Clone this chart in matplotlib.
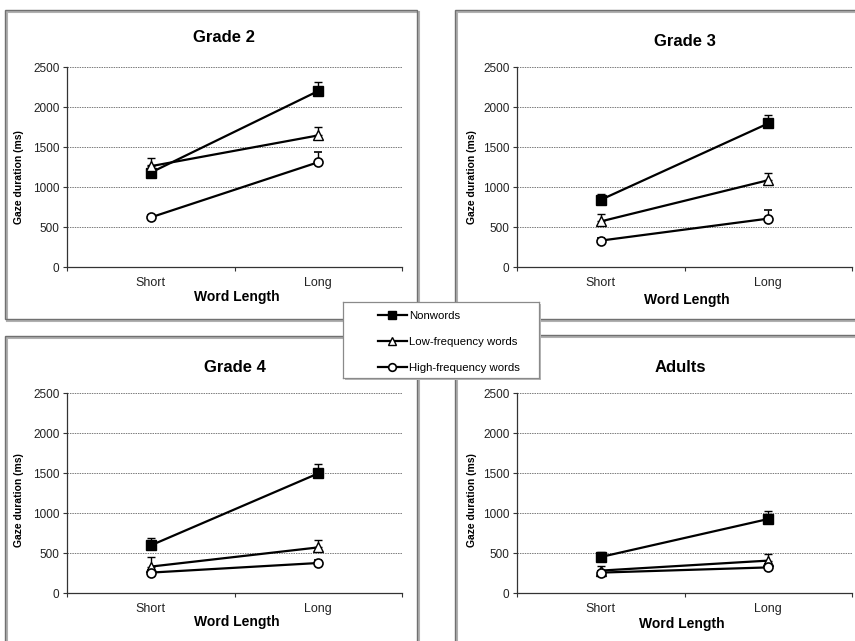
import numpy as np
import matplotlib
matplotlib.use('Agg')
import matplotlib.pyplot as plt
from matplotlib.patches import Rectangle
from matplotlib.lines import Line2D

plt.rcParams['font.family'] = ['Liberation Sans', 'DejaVu Sans']

# ==========================================
# DATA
# ==========================================
word_length = ['Short', 'Long']
series_names = ['Nonwords', 'Low-frequency words', 'High-frequency words']
panel_titles = ['Grade 2', 'Grade 3', 'Grade 4', 'Adults']

# mean gaze duration (ms), one list per panel: [Short, Long]
nonwords = [[1180, 2200], [840, 1795], [595, 1495], [450, 925]]
nonwords_err = [[100, 115], [75, 105], [90, 115], [60, 95]]
low_freq = [[1260, 1645], [570, 1085], [330, 570], [280, 405]]
low_freq_err = [[100, 105], [90, 90], [120, 92], [60, 85]]
high_freq = [[620, 1310], [330, 605], [255, 375], [255, 320]]
high_freq_err = [[30, 125], [30, 105], [30, 40], [20, 40]]

y_ticks = [0, 500, 1000, 1500, 2000, 2500]

# ==========================================
# LAYOUT (pixel geometry of the composite)
# ==========================================
W, H = 855, 641
fig = plt.figure(figsize=(W / 100, H / 100), dpi=100)
fig.patch.set_facecolor('white')


def fx(px):
    return px / W


def fy(py):
    return 1 - py / H


def box(x0, y0, x1, y1, lw=1.0, shadow=2):
    # panel frame with a soft drop shadow, like the pasted Excel charts
    if shadow:
        fig.patches.append(Rectangle((fx(x0 + shadow), fy(y1 + shadow)),
                                     fx(x1 - x0), (y1 - y0) / H,
                                     transform=fig.transFigure, fill=False,
                                     edgecolor='#b0b0b0', lw=lw + 0.5, zorder=0))
    fig.patches.append(Rectangle((fx(x0), fy(y1)), fx(x1 - x0), (y1 - y0) / H,
                                 transform=fig.transFigure, fill=False,
                                 edgecolor='#707070', lw=lw, zorder=1))


# panel frames: (x0, y0, x1, y1)
frames = [(5, 10, 417, 319), (455, 10, 858, 319),
          (5, 336, 417, 650), (455, 335, 858, 650)]
for fr in frames:
    box(*fr)

# axes rectangles: (left, top, right, bottom) in px
axes_px = [(67, 67, 402, 267), (517, 67, 852, 267),
           (67, 393, 402, 593), (517, 393, 852, 593)]
title_px = [(224, 38), (685, 42), (235, 367), (680, 367)]
ylabel_px = [(19, 177), (472, 177), (19, 500), (472, 500)]
xlabel_px = [(237, 297), (687, 300), (237, 622), (682, 624)]

styles = [dict(marker='s', mfc='black', mec='black', ms=6.5),
          dict(marker='^', mfc='white', mec='black', ms=6.5, mew=1.0),
          dict(marker='o', mfc='white', mec='black', ms=6.5, mew=1.2)]

x = np.arange(len(word_length))

for i in range(4):
    l, t, r, b = axes_px[i]
    ax = fig.add_axes([fx(l), fy(b), fx(r - l), (b - t) / H])
    ax.set_facecolor('none')

    data = [(nonwords[i], nonwords_err[i]),
            (low_freq[i], low_freq_err[i]),
            (high_freq[i], high_freq_err[i])]
    for k, (vals, err) in enumerate(data):
        ax.errorbar(x, vals, yerr=[np.zeros(len(err)), err],
                    color='black', lw=1.6, elinewidth=1.0,
                    capsize=3, capthick=1.0, zorder=3 + k, **styles[k])

    ax.set_xlim(-0.5, 1.5)
    ax.set_ylim(0, 2500)
    ax.set_yticks(y_ticks)
    ax.yaxis.grid(True, color='#7a7a7a', lw=0.7, linestyle=(0, (1.5, 1.0)))
    ax.set_axisbelow(True)
    ax.tick_params(axis='y', labelsize=8.5, length=3, width=0.8,
                   color='#333333', pad=2.5, labelcolor='#222222')

    ax.set_xticks(x)
    ax.set_xticklabels(word_length)
    ax.set_xticks([-0.5, 0.5, 1.5], minor=True)
    ax.tick_params(axis='x', which='major', length=0, labelsize=9,
                   pad=7, labelcolor='#222222')
    ax.tick_params(axis='x', which='minor', length=3, width=0.8,
                   color='#333333')

    for side in ['top', 'right']:
        ax.spines[side].set_visible(False)
    for side in ['left', 'bottom']:
        ax.spines[side].set_color('#333333')
        ax.spines[side].set_linewidth(0.9)

    fig.text(fx(title_px[i][0]), fy(title_px[i][1]), panel_titles[i],
             ha='center', va='center', fontsize=12, fontweight='bold')
    fig.text(fx(ylabel_px[i][0]), fy(ylabel_px[i][1]), 'Gaze duration (ms)',
             ha='center', va='center', rotation=90, fontsize=7.5,
             fontweight='bold')
    fig.text(fx(xlabel_px[i][0]), fy(xlabel_px[i][1]), 'Word Length',
             ha='center', va='center', fontsize=10, fontweight='bold')

# ==========================================
# SHARED LEGEND BOX IN THE MIDDLE
# ==========================================
lx0, ly0, lx1, ly1 = 343, 302, 539, 378
# shadow
fig.patches.append(Rectangle((fx(lx0 + 2), fy(ly1 + 2)), fx(lx1 - lx0),
                             (ly1 - ly0) / H, transform=fig.transFigure,
                             facecolor='#b8b8b8', edgecolor='none', zorder=5))
lax = fig.add_axes([fx(lx0), fy(ly1), fx(lx1 - lx0), (ly1 - ly0) / H])
lax.set_zorder(10)
lax.set_facecolor('white')
lax.set_xticks([])
lax.set_yticks([])
for s in lax.spines.values():
    s.set_color('#8a8a8a')
    s.set_linewidth(0.9)

leg_handles = [Line2D([], [], color='black', lw=1.6, markersize=5.5,
                      **{k: v for k, v in styles[j].items() if k != 'ms'})
               for j in range(3)]
lax.legend(leg_handles, series_names, loc='center left',
           bbox_to_anchor=(0.15, 0.47), frameon=False, fontsize=8.2,
           handlelength=2.5, handletextpad=0.25, labelspacing=1.4,
           borderpad=0)

fig.savefig('out.png', dpi=100, facecolor='white')
